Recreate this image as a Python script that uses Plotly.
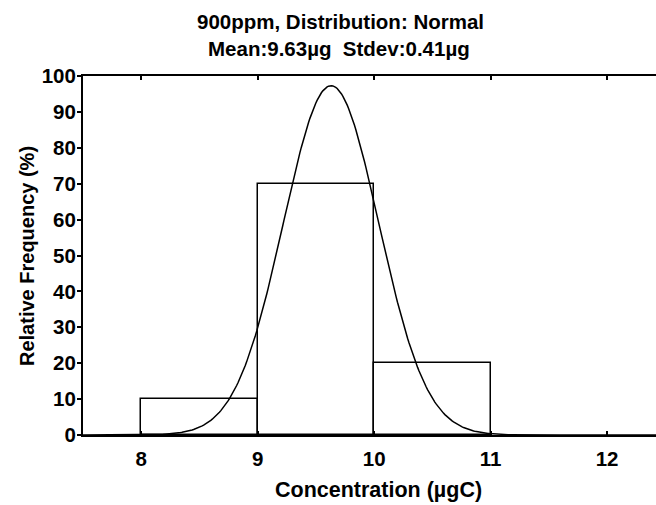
import numpy as np
import plotly.graph_objects as go

bin_left = [8, 9, 10]
bin_right = [9, 10, 11]
freq = [10, 70, 20]
mean_ug = 9.63
stdev_ug = 0.41
x_ticks = [8, 9, 10, 11, 12]
y_ticks = [0, 10, 20, 30, 40, 50, 60, 70, 80, 90, 100]

FONT = "Liberation Sans"
W, H = 656, 505
L, R, T, B = 83, 0, 76, 70
PW, PH = W - L - R, H - T - B

fig = go.Figure()

centers = [(a + b) / 2 for a, b in zip(bin_left, bin_right)]
widths = [b - a for a, b in zip(bin_left, bin_right)]
fig.add_trace(go.Bar(x=centers, y=freq, width=widths,
                     marker=dict(color="white", line=dict(color="black", width=1.5)),
                     showlegend=False))

xs = np.linspace(7.5, 12.42, 400)
ys = 100 * np.exp(-0.5 * ((xs - mean_ug) / stdev_ug) ** 2) / (stdev_ug * np.sqrt(2 * np.pi))
fig.add_trace(go.Scatter(x=xs, y=ys, mode="lines", line=dict(color="black", width=1.5),
                         showlegend=False))

fig.update_layout(
    width=W, height=H,
    margin=dict(l=L, r=R, t=T, b=B),
    plot_bgcolor="white", paper_bgcolor="white",
    font=dict(family=FONT, size=20, color="black"),
    bargap=0,
)


def px_x(x):
    return (x - L) / PW


def px_y(y):
    return (H - B - y) / PH


fig.add_annotation(text="<b>900ppm, Distribution: Normal</b>", xref="paper", yref="paper",
                   x=px_x(340), y=px_y(21), xanchor="center", yanchor="middle", showarrow=False,
                   font=dict(size=20.5))
fig.add_annotation(text="<b>Mean:9.63µg  Stdev:0.41µg</b>", xref="paper", yref="paper",
                   x=px_x(339), y=px_y(48), xanchor="center", yanchor="middle", showarrow=False,
                   font=dict(size=20.5))
fig.add_annotation(text="<b>Concentration (µgC)</b>", xref="paper", yref="paper",
                   x=px_x(378), y=px_y(490), xanchor="center", yanchor="middle", showarrow=False,
                   font=dict(size=21.5))
fig.add_annotation(text="<b>Relative Frequency (%)</b>", xref="paper", yref="paper",
                   x=px_x(27), y=px_y(256), xanchor="center", yanchor="middle", showarrow=False,
                   textangle=-90, font=dict(size=20))

fig.update_xaxes(range=[7.5, 12.42], tickvals=x_ticks, ticktext=[f"<b>{t}</b>" for t in x_ticks],
                 showline=True, linecolor="black", linewidth=2, mirror="ticks",
                 ticks="inside", ticklen=4, tickwidth=1.5, tickcolor="black",
                 ticklabelstandoff=4,
                 showgrid=False, zeroline=False, tickfont=dict(size=20.5))
fig.update_yaxes(range=[0, 100], tickvals=y_ticks, ticktext=[f"<b>{t}</b>" for t in y_ticks],
                 showline=True, linecolor="black", linewidth=2,
                 ticks="outside", ticklen=4, tickwidth=1.5, tickcolor="black",
                 ticklabelstandoff=-3,
                 showgrid=False, zeroline=False, tickfont=dict(size=20.5))

fig.write_html("out.html")
